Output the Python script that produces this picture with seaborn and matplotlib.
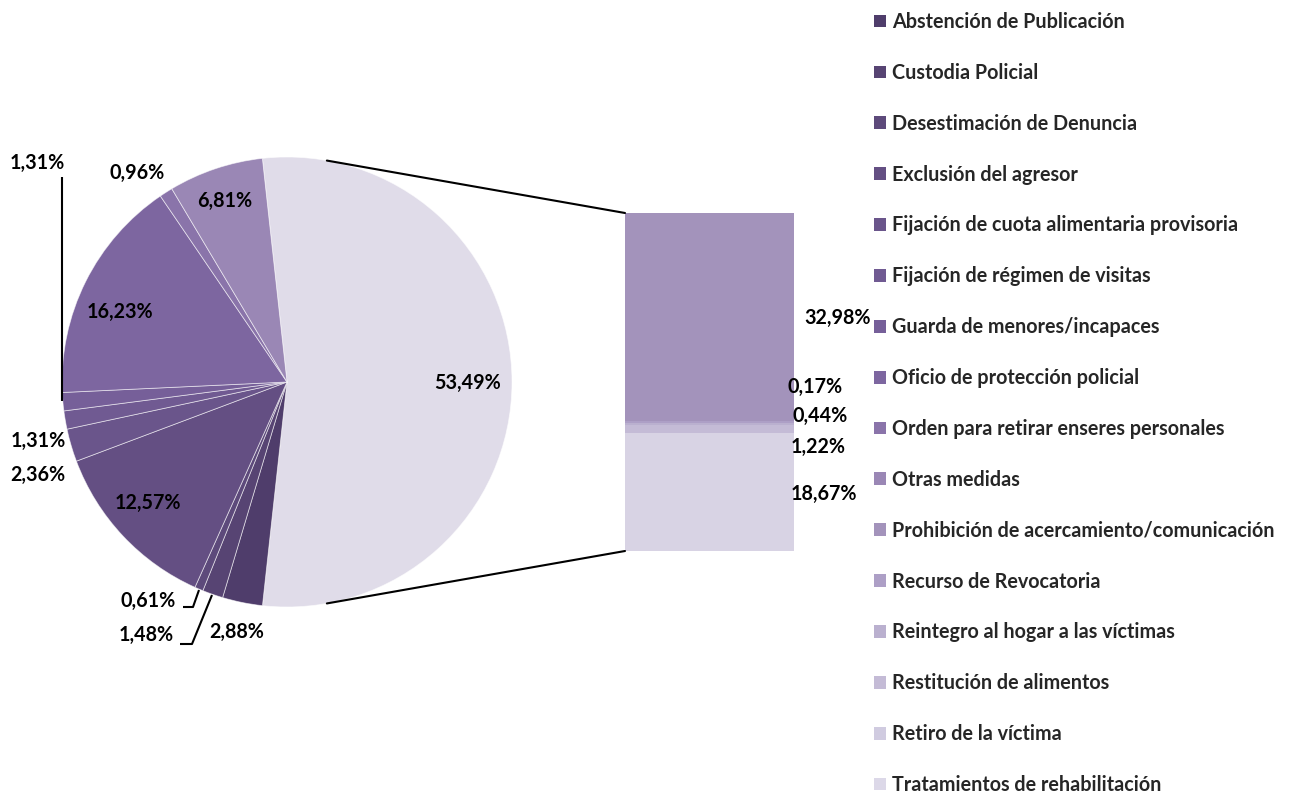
import numpy as np
import matplotlib
matplotlib.use("Agg")
import matplotlib.pyplot as plt
import seaborn as sns
from matplotlib.patches import ConnectionPatch, Patch

# ---------------- data ----------------
categories = [
    "Abstención de Publicación",
    "Custodia Policial",
    "Desestimación de Denuncia",
    "Exclusión del agresor",
    "Fijación de cuota alimentaria provisoria",
    "Fijación de régimen de visitas",
    "Guarda de menores/incapaces",
    "Oficio de protección policial",
    "Orden para retirar enseres personales",
    "Otras medidas",
    "Prohibición de acercamiento/comunicación",
    "Recurso de Revocatoria",
    "Reintegro al hogar a las víctimas",
    "Restitución de alimentos",
    "Retiro de la víctima",
    "Tratamientos de rehabilitación",
]
pie_values = [2.88, 1.48, 0.61, 12.57, 2.36, 1.31, 1.31, 16.23, 0.96, 6.81]
bar_values = [32.98, 0.17, 0.44, 1.22, 0.00, 18.67]
other_share = 53.49

# ---------------- style ----------------
colors = ['#4f3d6b', '#574473', '#5d4a7b', '#644f83', '#6a558b', '#705a92',
          '#765f99', '#7d66a0', '#8a74aa', '#9a87b5', '#a393bb', '#ad9fc6',
          '#bab0cf', '#c4bbd6', '#d0cbe0', '#d8d3e4']
legend_colors = colors[:-1] + ['#dcd8e8']
other_color = '#e0dce9'

sns.set_theme(style="white")
plt.rcParams['font.family'] = ['Lato', 'DejaVu Sans']
plt.rcParams['font.weight'] = 'bold'
FS = 14.2

W, H = 1293, 796
fig = plt.figure(figsize=(W / 100, H / 100), dpi=100)
fig.patch.set_facecolor('white')

def fx(px):
    return px / W

def fy(py):
    return 1 - py / H

def fmt(v):
    return f"{v:.2f}".replace('.', ',') + '%'

# ---------------- pie ----------------
cx, cy, r = 287, 382, 225
ax_pie = fig.add_axes([fx(cx - r), fy(cy + r), 2 * r / W, 2 * r / H])
wedges, _ = ax_pie.pie([other_share] + pie_values,
                       colors=[other_color] + colors[:len(pie_values)],
                       startangle=180 * other_share / 100,
                       counterclock=False, radius=1,
                       wedgeprops=dict(edgecolor=(1, 1, 1, 0.6), linewidth=0.6))
ax_pie.set_xlim(-1, 1)
ax_pie.set_ylim(-1, 1)
ax_pie.set_aspect('equal')
ax_pie.axis('off')

# ---------------- bar ----------------
bx0, by0, bx1, by1 = 625, 213, 794, 551
bar_total = sum(bar_values)
ax_bar = fig.add_axes([fx(bx0), fy(by1), (bx1 - bx0) / W, (by1 - by0) / H])
bottoms = np.concatenate([[0], np.cumsum(bar_values)[:-1]])
bars = ax_bar.bar(np.zeros(len(bar_values)), bar_values, bottom=bottoms, width=1,
                  color=colors[len(pie_values):], linewidth=0)
ax_bar.set_xlim(-0.5, 0.5)
ax_bar.set_ylim(bar_total, 0)
ax_bar.axis('off')

# connector lines
for ang, yb in [(10.2, 0), (169.8, bar_total)]:
    a = np.deg2rad(90 - ang)
    con = ConnectionPatch(xyA=(np.cos(a), np.sin(a)), coordsA=ax_pie.transData,
                          xyB=(-0.5, yb), coordsB=ax_bar.transData,
                          color='black', lw=1.5)
    fig.add_artist(con)

# ---------------- overlay for labels ----------------
ax_ov = fig.add_axes([0, 0, 1, 1], zorder=5)
ax_ov.set_xlim(0, W)
ax_ov.set_ylim(H, 0)
ax_ov.axis('off')
ax_ov.patch.set_visible(False)

pie_label_pos = [(468, 383), (237, 632), (146, 635), (148, 601), (148, 503),
                 (38, 475), (38, 441), (37, 163), (120, 312), (137, 173), (225, 201)]
for v, (x, y) in zip([other_share] + pie_values, pie_label_pos):
    ax_ov.text(x, y, fmt(v), ha='center', va='center', fontsize=FS,
               fontweight='bold', color='black')

bar_label_pos = [(838, 318), (815, 387), (820, 416), (818, 447), None, (824, 494)]
for v, pos in zip(bar_values, bar_label_pos):
    if pos is None:
        continue
    ax_ov.text(pos[0], pos[1], fmt(v), ha='center', va='center', fontsize=FS,
               fontweight='bold', color='black')

# leader lines
leaders = [
    [(62, 177), (62, 401)],
    [(183, 607), (193, 607), (199, 590)],
    [(180, 644), (192, 644), (212, 595)],
]
for pts in leaders:
    xs, ys = zip(*pts)
    ax_ov.plot(xs, ys, color='black', lw=1.5, solid_capstyle='butt')

# ---------------- legend ----------------
handles = [Patch(facecolor=c, edgecolor='none') for c in legend_colors]
leg = fig.legend(handles, categories, loc='upper left',
                 bbox_to_anchor=(fx(874), fy(12)), frameon=False,
                 fontsize=FS, handlelength=0.62, handleheight=0.62,
                 handletextpad=0.3, labelspacing=1.565, borderpad=0,
                 borderaxespad=0)
for t in leg.get_texts():
    t.set_fontweight('bold')

fig.savefig('out.png', dpi=100, facecolor='white')
